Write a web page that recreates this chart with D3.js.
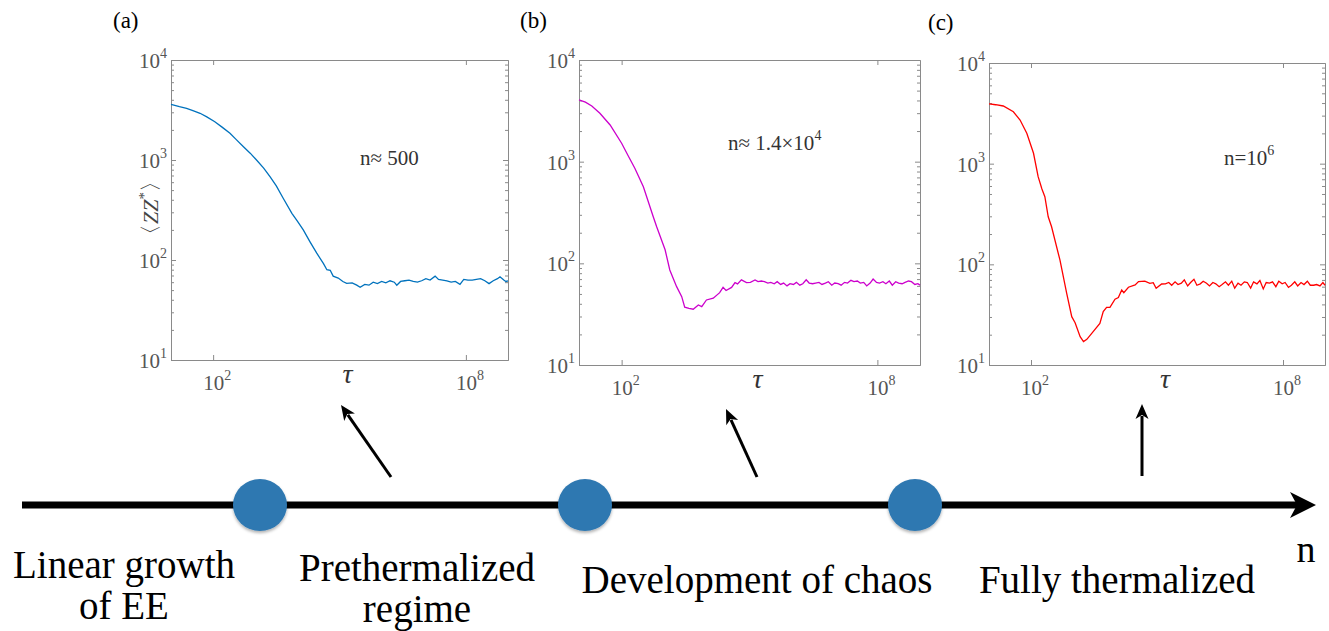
<!DOCTYPE html>
<html><head><meta charset="utf-8">
<script src="https://cdn.jsdelivr.net/npm/d3@7"></script>
<style>body{margin:0;background:#fff}svg{display:block}</style>
</head><body>
<script>
// ---------- data (log10 of tau, and <ZZ*>) ----------
const A_tauExp = [1.00,1.20,1.37,1.52,1.69,1.85,2.04,2.22,2.40,2.55,2.72,2.88,3.03,3.20,3.35,3.50,3.66,3.87,4.00,4.14,4.30,4.46,4.62,4.70,4.78,4.85,4.97,5.08,5.17,5.30,5.41,5.49,5.60,5.70,5.80,5.90,6.00,6.10,6.20,6.30,6.36,6.45,6.55,6.65,6.75,6.85,6.95,7.05,7.15,7.27,7.35,7.45,7.55,7.65,7.75,7.86,7.95,8.05,8.15,8.25,8.35,8.45,8.55,8.65,8.75,8.81,8.90,8.95,9.00];
const A_zz     = [3606,3420,3289,3120,2931,2700,2415,2120,1849,1600,1359,1170,1000,830,681,550,417,293,245,200,152,117,92,80,79,69,66,61,58.5,59,56,53.3,57,56,60,58,61,59,62,60,56,61,62,63,61,60,62,65,63,69,64,63,62,60,61,57,64,63,63,64,65,62,58,62,65,68,63,61,62];

const B_tauExp = [1.00,1.15,1.30,1.49,1.73,2.00,2.15,2.31,2.51,2.74,2.82,3.02,3.13,3.29,3.41,3.48,3.58,3.68,3.80,3.88,3.99,4.15,4.30,4.38,4.45,4.58,4.66,4.72,4.81,4.93,5.02,5.13,5.20,5.28,5.35,5.43,5.50,5.58,5.65,5.73,5.80,5.88,5.95,6.03,6.10,6.18,6.25,6.33,6.40,6.48,6.55,6.63,6.70,6.78,6.85,6.93,7.00,7.08,7.15,7.23,7.30,7.38,7.45,7.53,7.60,7.68,7.75,7.83,7.90,7.98,8.05,8.13,8.20,8.28,8.35,8.43,8.50,8.58,8.65,8.73,8.80,8.88,8.95,9.00];
const B_zz     = [4047,3850,3532,2993,2296,1517,1150,861,567,289,230,136,86,59,47,37,36,35.4,39,37.5,43.6,45.4,51.5,58,54,58,64.6,62.7,68.7,64.6,65,68.7,66,67,66,64,65,63,66,62,64,60,63,62,65,61,63,69,64,63,64,65,62,64,66,61,64,63,61,65,64,68,66,67,64,65,60,64,70,65,64,66,63,67,61,66,64,63,65,67,66,62,63,61];

const C_tauExp = [1.00,1.16,1.34,1.58,1.74,1.90,2.06,2.17,2.26,2.33,2.41,2.49,2.69,2.85,2.97,3.05,3.17,3.25,3.33,3.48,3.64,3.72,3.80,3.88,4.00,4.08,4.16,4.21,4.32,4.48,4.56,4.71,4.83,4.91,4.98,5.11,5.20,5.28,5.35,5.43,5.50,5.58,5.65,5.73,5.80,5.88,5.95,6.03,6.10,6.18,6.25,6.33,6.40,6.48,6.55,6.63,6.70,6.78,6.85,6.93,7.00,7.08,7.15,7.23,7.30,7.38,7.45,7.53,7.60,7.68,7.75,7.83,7.90,7.98,8.05,8.13,8.20,8.28,8.35,8.43,8.50,8.58,8.65,8.73,8.80,8.88,8.95,9.00];
const C_zz     = [3918,3850,3741,3281,2716,2003,1268,742,560,470,297,236,110,51.5,30.2,26.3,19.1,17.1,18,21.5,25.9,33.9,37.4,37.4,45,46.7,55.6,52.3,59.2,62.4,67.3,68.2,64.8,65.8,57.8,63.8,64,66,62,67,63,65,70,61,66,71,62,64,68,65,61,66,64,60,63,67,62,68,58,65,62,67,66,58,67,64,69,57,66,65,67,60,68,64,66,59,62,67,61,66,63,68,62,62,63,61,66,62];

const xTickExp = [2, 8];
const yTickExp = [1, 2, 3, 4];
const panelLabels = ["(a)", "(b)", "(c)"];
const noteMain = ["n\u2248 500", "n\u2248 1.4\u00d710", "n=10"];
const noteSup  = ["", "4", "6"];
const stageLabels = [["Linear growth","of EE"],["Prethermalized","regime"],["Development of chaos"],["Fully thermalized"]];
const axisName = "n";

// ---------- layout ----------
const W = 1329, H = 631;
const FONT = "'Liberation Serif','Times New Roman',serif";
const svg = d3.select("body").append("svg").attr("width", W).attr("height", H);

const panels = [
  {left:171, right:508, top:60, bottom:360, color:"#0072BD", xs:A_tauExp, ys:A_zz, lab:[113,28], note:[360,165]},
  {left:579, right:920, top:60, bottom:365, color:"#CC00CC", xs:B_tauExp, ys:B_zz, lab:[520,28], note:[728,150]},
  {left:989, right:1325, top:63, bottom:365, color:"#FF0000", xs:C_tauExp, ys:C_zz, lab:[928,30], note:[1224,165]}
];

const axisCol = "#8a8a8a", labCol = "#555";

panels.forEach((p, i) => {
  const g = svg.append("g");
  const x = d3.scaleLog().domain([1e1, 1e9]).range([p.left, p.right]);
  const y = d3.scaleLog().domain([1e1, 1e4]).range([p.bottom, p.top]);
  const majors = yTickExp.map(e => Math.pow(10, e));
  const minors = [];
  for (let e = 1; e < 4; e++) for (let k = 2; k <= 9; k++) minors.push(k * Math.pow(10, e));
  const xt = xTickExp.map(e => Math.pow(10, e));

  const style = sel => { sel.select(".domain").attr("stroke", axisCol);
    sel.selectAll(".tick line").attr("stroke", axisCol); sel.selectAll(".tick text").remove(); };

  g.append("g").attr("transform", `translate(0,${p.bottom})`)
    .call(d3.axisBottom(x).tickValues(xt).tickSize(-5).tickSizeOuter(0)).call(style);
  g.append("g").attr("transform", `translate(0,${p.top})`)
    .call(d3.axisTop(x).tickValues(xt).tickSize(-5).tickSizeOuter(0)).call(style);
  g.append("g").attr("transform", `translate(${p.left},0)`)
    .call(d3.axisLeft(y).tickValues(majors).tickSize(-5).tickSizeOuter(0)).call(style);
  g.append("g").attr("transform", `translate(${p.left},0)`)
    .call(d3.axisLeft(y).tickValues(minors).tickSize(-3).tickSizeOuter(0)).call(style);
  g.append("g").attr("transform", `translate(${p.right},0)`)
    .call(d3.axisRight(y).tickValues(majors).tickSize(-5).tickSizeOuter(0)).call(style);
  g.append("g").attr("transform", `translate(${p.right},0)`)
    .call(d3.axisRight(y).tickValues(minors).tickSize(-3).tickSizeOuter(0)).call(style);
  g.selectAll(".domain").attr("stroke-width", 1);

  // y tick labels
  yTickExp.forEach(e => {
    const t = g.append("text").attr("x", p.left - 4).attr("y", y(Math.pow(10, e)) + 8)
      .attr("text-anchor", "end").attr("font-family", FONT).attr("font-size", 21).attr("fill", labCol);
    t.append("tspan").text("10");
    t.append("tspan").attr("dy", -10).attr("font-size", 14).text(e);
  });
  // x tick labels
  xTickExp.forEach(e => {
    const t = g.append("text").attr("x", x(Math.pow(10, e)) + 4).attr("y", p.bottom + 30)
      .attr("text-anchor", "middle").attr("font-family", FONT).attr("font-size", 21).attr("fill", labCol);
    t.append("tspan").text("10");
    t.append("tspan").attr("dy", -10).attr("font-size", 14).text(e);
  });
  // tau label
  g.append("text").attr("x", (p.left + p.right) / 2 + 8).attr("y", p.bottom + 23)
    .attr("text-anchor", "middle").attr("font-family", FONT).attr("font-style", "italic")
    .attr("font-size", 28).attr("fill", "#333").text("\u03c4");

  // curve
  const data = p.xs.map((e, j) => [Math.pow(10, e), p.ys[j]]);
  g.append("path").datum(data).attr("fill", "none").attr("stroke", p.color).attr("stroke-width", 1.3)
    .attr("d", d3.line().x(d => x(d[0])).y(d => y(d[1])));

  // panel label
  g.append("text").attr("x", p.lab[0]).attr("y", p.lab[1]).attr("font-family", FONT)
    .attr("font-size", 23).attr("fill", "#000").text(panelLabels[i]);
  // note
  const n = g.append("text").attr("x", p.note[0]).attr("y", p.note[1]).attr("font-family", FONT)
    .attr("font-size", 21).attr("fill", "#333");
  n.append("tspan").text(noteMain[i]);
  if (noteSup[i]) n.append("tspan").attr("dy", -10).attr("font-size", 14).text(noteSup[i]);

  if (i === 0) {
    const yl = g.append("text").attr("transform", `translate(158,${(p.top + p.bottom) / 2 - 2}) rotate(-90)`)
      .attr("text-anchor", "middle").attr("font-family", FONT).attr("font-size", 22).attr("fill", "#444");
    yl.append("tspan").text("\u3008");
    yl.append("tspan").attr("font-style", "italic").text("ZZ");
    yl.append("tspan").attr("dy", -9).attr("font-size", 15).text("*");
    yl.append("tspan").attr("dy", 9).text("\u3009");
  }
});

// ---------- timeline ----------
const lineY = 505;
svg.append("line").attr("x1", 22).attr("x2", 1298).attr("y1", lineY).attr("y2", lineY)
  .attr("stroke", "#000").attr("stroke-width", 7);
svg.append("path").attr("d", `M1316,${lineY} L1290,${lineY - 13} L1297,${lineY} L1290,${lineY + 13} Z`).attr("fill", "#000");

const defs = svg.append("defs");
const f = defs.append("filter").attr("id", "sh").attr("x", "-30%").attr("y", "-30%").attr("width", "160%").attr("height", "160%");
f.append("feDropShadow").attr("dx", 0).attr("dy", 2).attr("stdDeviation", 1.5).attr("flood-color", "#000").attr("flood-opacity", 0.3);

[260, 585, 915].forEach(cx => {
  svg.append("ellipse").attr("cx", cx).attr("cy", lineY).attr("rx", 27).attr("ry", 26)
    .attr("fill", "#2f78b1").attr("filter", "url(#sh)");
});

// arrows from timeline up to panels
const arrows = [[391, 477, 341, 405], [757, 477, 726, 409], [1142, 476, 1142, 404]];
arrows.forEach(([x1, y1, x2, y2]) => {
  const a = Math.atan2(y2 - y1, x2 - x1), L = 15, hw = 6.5;
  const bx = x2 - L * Math.cos(a), by = y2 - L * Math.sin(a);
  svg.append("line").attr("x1", x1).attr("y1", y1).attr("x2", bx + 3 * Math.cos(a)).attr("y2", by + 3 * Math.sin(a))
    .attr("stroke", "#000").attr("stroke-width", 3);
  const px = -Math.sin(a) * hw, py = Math.cos(a) * hw;
  const nx = x2 - (L - 4) * Math.cos(a), ny = y2 - (L - 4) * Math.sin(a);
  svg.append("path").attr("d", `M${x2},${y2} L${bx + px},${by + py} L${nx},${ny} L${bx - px},${by - py} Z`).attr("fill", "#000");
});

// stage labels
const stagePos = [[124, 578], [417, 581], [757, 593], [1117, 593]];
stageLabels.forEach((lines, i) => {
  lines.forEach((s, j) => {
    svg.append("text").attr("x", stagePos[i][0]).attr("y", stagePos[i][1] + j * 41)
      .attr("text-anchor", "middle").attr("font-family", FONT).attr("font-size", 39).attr("fill", "#000").text(s);
  });
});
svg.append("text").attr("x", 1306).attr("y", 562).attr("text-anchor", "middle")
  .attr("font-family", FONT).attr("font-size", 38).attr("fill", "#000").text(axisName);
</script>
</body></html>
